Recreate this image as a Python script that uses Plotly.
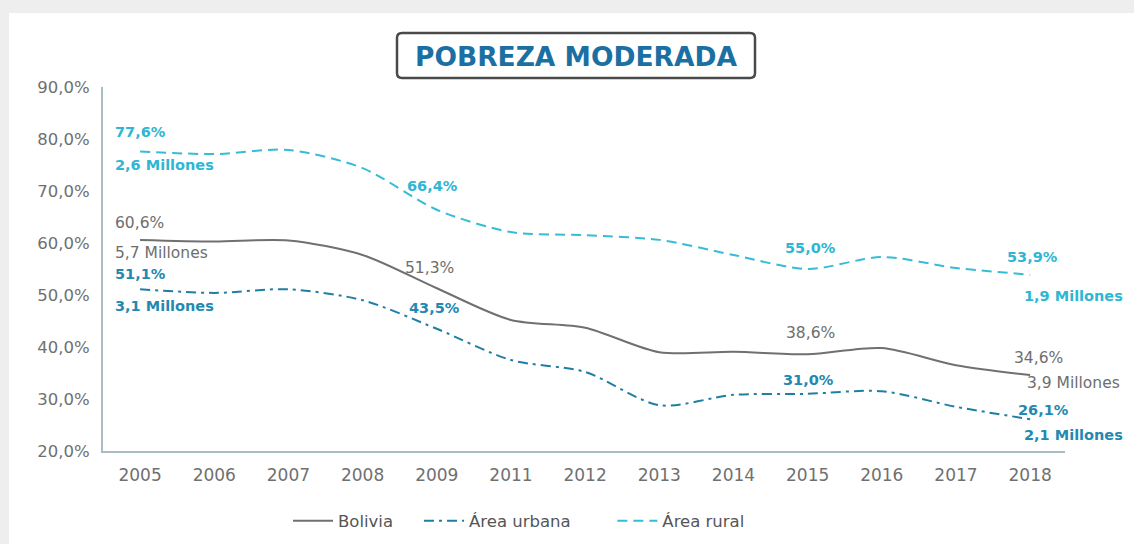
import plotly.graph_objects as go

years = ["2005", "2006", "2007", "2008", "2009", "2011", "2012", "2013",
         "2014", "2015", "2016", "2017", "2018"]
bolivia = [60.6, 60.3, 60.5, 57.7, 51.3, 45.2, 43.7, 39.0, 39.1, 38.6, 39.8, 36.5, 34.6]
urbana = [51.1, 50.4, 51.1, 49.0, 43.5, 37.5, 35.2, 28.8, 30.8, 31.0, 31.5, 28.5, 26.1]
rural = [77.6, 77.1, 77.9, 74.4, 66.4, 62.1, 61.5, 60.6, 57.7, 55.0, 57.3, 55.2, 53.9]

y_ticks = [20, 30, 40, 50, 60, 70, 80, 90]
y_ticktext = ["20,0%", "30,0%", "40,0%", "50,0%", "60,0%", "70,0%", "80,0%", "90,0%"]

C_BOL = "#707070"
C_URB = "#1f7fa3"
C_RUR = "#35bcd6"
C_BOL_T = "#6e6e6e"
C_URB_T = "#2389b0"
C_RUR_T = "#2fb6d3"
FONT = "DejaVu Sans"
NB = "\u00a0"

W, H = 1134, 544
ML, MR, MT, MB = 103, 69, 87, 93
PW, PH = W - ML - MR, H - MT - MB


def px(xp):
    return (xp - ML) / PW


def py(yp):
    return (H - MB - yp) / PH


fig = go.Figure()
fig.add_trace(go.Scatter(x=years, y=bolivia, name="Bolivia" + NB * 4, mode="lines",
                         line=dict(color=C_BOL, width=2, shape="spline", smoothing=0.8)))
fig.add_trace(go.Scatter(x=years, y=urbana, name="Área urbana" + NB * 7, mode="lines",
                         line=dict(color=C_URB, width=2, dash="10px,5px,3px,5px",
                                   shape="spline", smoothing=0.8)))
fig.add_trace(go.Scatter(x=years, y=rural, name="Área rural", mode="lines",
                         line=dict(color=C_RUR, width=2, dash="10px,6px",
                                   shape="spline", smoothing=0.8)))

series = {"b": bolivia, "u": urbana, "r": rural}


def fmt(v):
    return f"{v:.1f}".replace(".", ",") + "%"


# (series, index, text, xanchor, xshift, yshift, color, bold)
labels = [
    ("r", 0, fmt(rural[0]), "center", 0, 19, C_RUR_T, True),
    ("r", 0, "2,6 Millones", "left", -27, -14, C_RUR_T, True),
    ("b", 0, fmt(bolivia[0]), "left", -27, 17, C_BOL_T, False),
    ("b", 0, "5,7 Millones", "left", -27, -13, C_BOL_T, False),
    ("u", 0, fmt(urbana[0]), "center", 0, 15, C_URB_T, True),
    ("u", 0, "3,1 Millones", "left", -27, -17, C_URB_T, True),
    ("r", 4, fmt(rural[4]), "center", -4, 24, C_RUR_T, True),
    ("b", 4, fmt(bolivia[4]), "center", -7, 20, C_BOL_T, False),
    ("u", 4, fmt(urbana[4]), "center", -2, 21, C_URB_T, True),
    ("r", 9, fmt(rural[9]), "center", 3, 21, C_RUR_T, True),
    ("b", 9, fmt(bolivia[9]), "center", 3, 21, C_BOL_T, False),
    ("u", 9, fmt(urbana[9]), "center", 1, 14, C_URB_T, True),
    ("r", 12, fmt(rural[12]), "center", 2, 18, C_RUR_T, True),
    ("r", 12, "1,9 Millones", "left", -8, -21, C_RUR_T, True),
    ("b", 12, fmt(bolivia[12]), "center", 8, 17, C_BOL_T, False),
    ("b", 12, "3,9 Millones", "left", -5, -8, C_BOL_T, False),
    ("u", 12, fmt(urbana[12]), "center", 13, 9, C_URB_T, True),
    ("u", 12, "2,1 Millones", "left", -8, -16, C_URB_T, True),
]
for s, i, t, xa, xs, ys, c, b in labels:
    fig.add_annotation(x=i, y=series[s][i], text=t, showarrow=False,
                       xanchor=xa, yanchor="middle", xshift=xs, yshift=ys,
                       font=dict(family=FONT, size=14.5 if b else 15.5, color=c,
                                 weight="bold" if b else "normal"))

# white panel
fig.add_shape(type="rect", xref="paper", yref="paper", layer="below",
              x0=px(9), x1=px(W + 20), y0=py(H + 20), y1=py(13),
              fillcolor="white", line=dict(width=0))

# rounded title box
bx0, bx1, by0, by1, r = 397, 755, 33, 78, 5
path = (f"M {px(bx0 + r)} {py(by0)} L {px(bx1 - r)} {py(by0)} "
        f"Q {px(bx1)} {py(by0)} {px(bx1)} {py(by0 + r)} "
        f"L {px(bx1)} {py(by1 - r)} Q {px(bx1)} {py(by1)} {px(bx1 - r)} {py(by1)} "
        f"L {px(bx0 + r)} {py(by1)} Q {px(bx0)} {py(by1)} {px(bx0)} {py(by1 - r)} "
        f"L {px(bx0)} {py(by0 + r)} Q {px(bx0)} {py(by0)} {px(bx0 + r)} {py(by0)} Z")
fig.add_shape(type="path", xref="paper", yref="paper", path=path,
              fillcolor="white", line=dict(color="#4a4a4a", width=2.5))
fig.add_annotation(xref="paper", yref="paper", x=px((bx0 + bx1) / 2), y=py((by0 + by1) / 2 + 1),
                   text="POBREZA MODERADA", showarrow=False, xanchor="center", yanchor="middle",
                   font=dict(family=FONT, size=26.5, color="#1b6fa3", weight="bold"))

fig.update_layout(
    width=W, height=H,
    margin=dict(l=ML, r=MR, t=MT, b=MB, pad=0, autoexpand=False),
    paper_bgcolor="#eeeeee",
    plot_bgcolor="white",
    font=dict(family=FONT, color="#6a6a6a"),
    showlegend=True,
    legend=dict(orientation="h", xref="container", yref="container",
                x=288 / W, xanchor="left", y=(H - 521) / H, yanchor="middle",
                font=dict(family=FONT, size=16.5, color="#555555"),
                bgcolor="rgba(0,0,0,0)", itemwidth=40, tracegroupgap=0),
    xaxis=dict(type="category", range=[-0.5, 12.47], showgrid=False, zeroline=False,
               showline=True, linecolor="#a9bcc4", linewidth=2, ticks="",
               tickfont=dict(family=FONT, size=17, color="#707070"), ticklabelstandoff=8),
    yaxis=dict(range=[20, 90], tickvals=y_ticks, ticktext=y_ticktext, showgrid=False,
               zeroline=False, showline=True, linecolor="#a9bcc4", linewidth=2, ticks="",
               tickfont=dict(family=FONT, size=16.5, color="#707070"), ticklabelstandoff=8),
)

fig.write_html("out.html", config={"displayModeBar": False},
               post_script="document.body.style.margin='0';document.body.style.background='white';")
